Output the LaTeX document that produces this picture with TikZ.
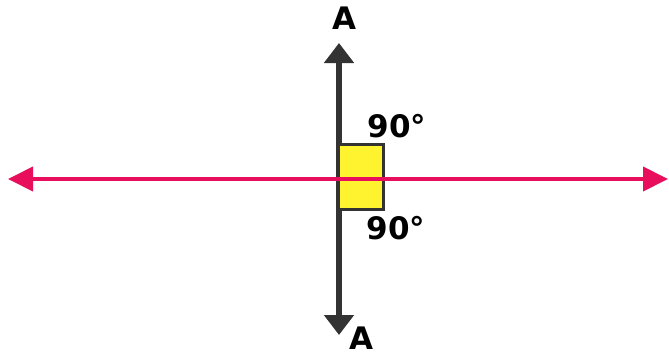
\documentclass[tikz,border=0pt]{standalone}
\usepackage{fontspec}
\setmainfont{DejaVu Sans}
\usetikzlibrary{arrows.meta,positioning}
\definecolor{linepink}{RGB}{232,14,92}
\definecolor{axisgray}{RGB}{51,51,51}
\definecolor{boxyellow}{RGB}{255,242,46}

\begin{document}
\begin{tikzpicture}[x=1pt,y=-1pt,
  lbl/.style={inner sep=0pt,font=\fontsize{31}{37}\selectfont\bfseries},
  perp/.style={draw=axisgray,line width=6pt,-{Triangle[length=20pt,width=29pt]}},
  horiz/.style={draw=linepink,line width=4pt,{Triangle[length=25pt,width=24pt]}-{Triangle[length=25pt,width=24pt]}},
  rightbox/.style={draw=axisgray,fill=boxyellow,line width=3pt,inner sep=0pt,minimum width=45pt,minimum height=65pt}]
\useasboundingbox (0,0) rectangle (669,356);
% ends of the two lines
\coordinate (O) at (339,179);
\coordinate (top) at (339,43);
\coordinate (bot) at (339,335);
\coordinate (west) at (8,179);
\coordinate (east) at (668,179);
% perpendicular line A--A
\draw[perp] (O)--(top);
\draw[perp] (O)--(bot);
\node[rightbox] (sq) at (361,177) {};
\draw[horiz] (west)--(east);
% labels
\node[lbl] (Atop) at (344,18) {A};
\node[lbl] (Abot) at (361,338) {A};
\node[lbl] (angtop) at (397,126) {90°};
\node[lbl] (angbot) at (396,228) {90°};
\end{tikzpicture}
\end{document}
